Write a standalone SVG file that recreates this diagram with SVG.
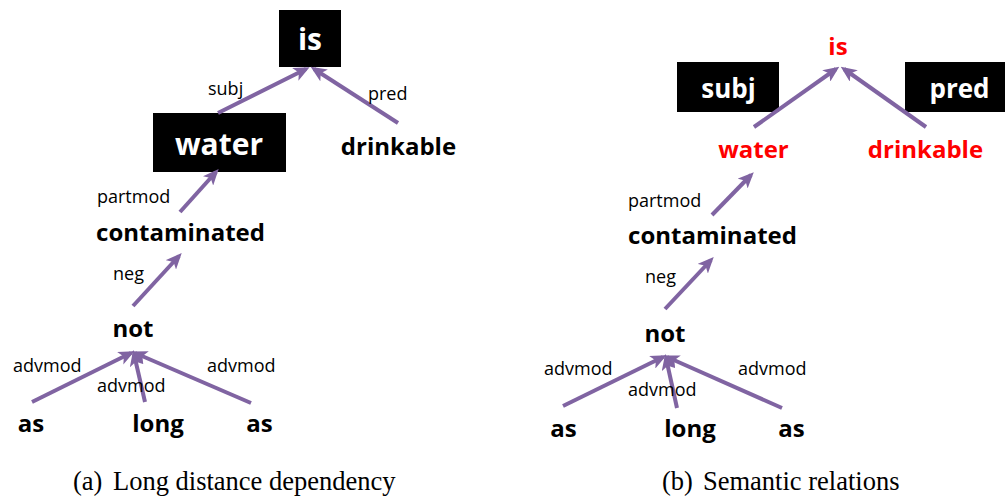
<svg xmlns="http://www.w3.org/2000/svg" width="1005" height="500" viewBox="0 0 1005 500">
<style>
.w{font-family:"Open Sans","DejaVu Sans",sans-serif;font-weight:bold;font-size:24px;fill:#000;text-anchor:middle}
.r{fill:#FF0000}
.bw{fill:#fff;font-size:30px}
.bs{fill:#fff;font-size:26px}
.l{font-family:"Open Sans","DejaVu Sans",sans-serif;font-size:18px;fill:#000}
.c{font-family:"Liberation Serif","Times New Roman",serif;font-size:26.5px;fill:#000}
.box{fill:#000}
.e{stroke:#8064A2;stroke-width:4;fill:none;marker-end:url(#ah)}
</style>
<defs>
<marker id="ah" markerUnits="userSpaceOnUse" viewBox="0 0 16 14" markerWidth="16" markerHeight="14" refX="12" refY="7" orient="auto">
<path d="M0,0 L16,7 L0,14 L4,7 Z" fill="#8064A2"/>
</marker>
</defs>
<rect width="1005" height="500" fill="#fff"/>
<g id="a-is"><rect class="box" x="279" y="10" width="62" height="57"/><text class="w bw" x="310" y="50">is</text></g>
<g id="a-water"><rect class="box" x="153" y="113" width="133" height="59"/><text class="w bw" x="219" y="155">water</text></g>
<g id="a-drinkable"><text class="w" x="398.5" y="155">drinkable</text></g>
<g id="a-contaminated"><text class="w" x="180.5" y="241">contaminated</text></g>
<g id="a-not"><text class="w" x="133" y="337">not</text></g>
<g id="a-as1"><text class="w" x="31" y="432">as</text></g>
<g id="a-long"><text class="w" x="158" y="432">long</text></g>
<g id="a-as2"><text class="w" x="259.5" y="432">as</text></g>
<g id="b-is"><text class="w r" x="838" y="55">is</text></g>
<g id="b-subj"><rect class="box" x="677" y="62" width="102" height="50"/><text class="w bs" x="728.5" y="98">subj</text></g>
<g id="b-pred"><rect class="box" x="905" y="62" width="100" height="50"/><text class="w bs" x="959.5" y="98">pred</text></g>
<g id="b-water"><text class="w r" x="753.5" y="158">water</text></g>
<g id="b-drinkable"><text class="w r" x="925.5" y="158">drinkable</text></g>
<g id="b-contaminated"><text class="w" x="712.5" y="244">contaminated</text></g>
<g id="b-not"><text class="w" x="665" y="342">not</text></g>
<g id="b-as1"><text class="w" x="563.5" y="437">as</text></g>
<g id="b-long"><text class="w" x="690" y="437">long</text></g>
<g id="b-as2"><text class="w" x="791.5" y="437">as</text></g>
<g id="connectors">
<line class="e" x1="218" y1="113" x2="306" y2="69"/>
<line class="e" x1="398" y1="123" x2="314" y2="69"/>
<line class="e" x1="180" y1="212" x2="216" y2="172"/>
<line class="e" x1="133" y1="306" x2="179" y2="256"/>
<line class="e" x1="32" y1="402" x2="131" y2="353"/>
<line class="e" x1="145" y1="402" x2="134" y2="354"/>
<line class="e" x1="251" y1="403" x2="135" y2="353"/>
<line class="e" x1="754" y1="127" x2="836" y2="69"/>
<line class="e" x1="926" y1="127" x2="844" y2="69"/>
<line class="e" x1="712" y1="215" x2="751" y2="175"/>
<line class="e" x1="665" y1="309" x2="711" y2="260"/>
<line class="e" x1="563" y1="406" x2="663" y2="357"/>
<line class="e" x1="677" y1="408" x2="666" y2="358"/>
<line class="e" x1="782" y1="408" x2="667" y2="357"/>
</g>
<g id="labels">
<text class="l" x="208" y="95">subj</text>
<text class="l" x="368" y="100">pred</text>
<text class="l" x="97" y="203">partmod</text>
<text class="l" x="113" y="280">neg</text>
<text class="l" x="13" y="372">advmod</text>
<text class="l" x="97" y="392">advmod</text>
<text class="l" x="207" y="372">advmod</text>
<text class="l" x="628" y="207">partmod</text>
<text class="l" x="645" y="283">neg</text>
<text class="l" x="544" y="375">advmod</text>
<text class="l" x="628" y="396">advmod</text>
<text class="l" x="738" y="375">advmod</text>
</g>
<g id="captions">
<text class="c" x="73" y="490">(a)</text>
<text class="c" x="113" y="490">Long distance dependency</text>
<text class="c" x="662" y="490">(b)</text>
<text class="c" x="703" y="490">Semantic relations</text>
</g>
</svg>
